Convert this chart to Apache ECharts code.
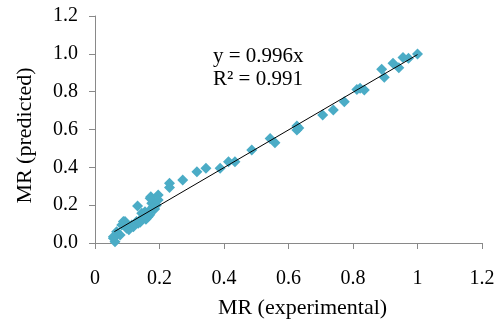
<!DOCTYPE html>
<html>
<head>
<meta charset="utf-8">
<script src="https://cdn.jsdelivr.net/npm/echarts@6/dist/echarts.min.js"></script>
<style>
  html, body { margin: 0; padding: 0; background: #fff; }
  #chart { width: 502px; height: 322px; }
</style>
</head>
<body>
<div id="chart"></div>
<script>
// MR experimental vs predicted
const mrExperimental = [
  1.000, 0.955, 0.972, 0.924, 0.942, 0.889, 0.897, 0.812, 0.835, 0.822,
  0.773, 0.739, 0.706, 0.626, 0.626, 0.632, 0.543, 0.558, 0.486, 0.434,
  0.414, 0.388, 0.344, 0.316, 0.272, 0.231, 0.231, 0.196, 0.173, 0.176,
  0.196, 0.171, 0.132, 0.145, 0.155, 0.171, 0.165, 0.145, 0.129, 0.134,
  0.119, 0.093, 0.083, 0.098, 0.114, 0.067, 0.078, 0.057, 0.062, 0.057,
  0.160, 0.180, 0.190, 0.150, 0.088, 0.185, 0.170, 0.158, 0.140, 0.105
]
const mrPredicted = [
  0.999, 0.981, 0.976, 0.950, 0.927, 0.918, 0.876, 0.812, 0.809, 0.818,
  0.747, 0.703, 0.677, 0.618, 0.597, 0.608, 0.553, 0.530, 0.492, 0.430,
  0.430, 0.395, 0.395, 0.377, 0.333, 0.316, 0.294, 0.254, 0.245, 0.210,
  0.227, 0.236, 0.196, 0.157, 0.165, 0.174, 0.139, 0.122, 0.113, 0.104,
  0.086, 0.113, 0.095, 0.078, 0.095, 0.060, 0.042, 0.025, 0.007, 0.033,
  0.150, 0.190, 0.200, 0.140, 0.113, 0.180, 0.150, 0.125, 0.110, 0.070
]

// trend line y = 0.996x, drawn over the data range
const trendX = [0.06, 1.0]
const trendY = [0.060, 0.996]

const equationLines = ['y = 0.996x', 'R² = 0.991']

const axisMin = 0
const axisMax = 1.2
const axisStep = 0.2

const chart = echarts.init(document.getElementById('chart'))

const font = 'Liberation Serif, Times New Roman, serif'
const axisGray = '#898989'

const option = {
  animation: false,
  grid: { left: 95, right: 20, top: 16, bottom: 79, outerBoundsMode: 'none' },
  xAxis: {
    type: 'value',
    min: axisMin,
    max: axisMax,
    interval: axisStep,
    name: 'MR (experimental)',
    nameLocation: 'middle',
    nameGap: 54,
    nameTextStyle: { fontFamily: font, fontSize: 22, color: '#000', padding: [0, 0, 0, 28] },
    axisLine: { show: true, lineStyle: { color: axisGray, width: 1 } },
    axisTick: { show: true, inside: false, length: 6, lineStyle: { color: axisGray } },
    splitLine: { show: false },
    axisLabel: { fontFamily: font, fontSize: 20, color: '#000', margin: 26 }
  },
  yAxis: {
    type: 'value',
    min: axisMin,
    max: axisMax,
    interval: axisStep,
    name: 'MR (predicted)',
    nameLocation: 'middle',
    nameGap: 59,
    nameTextStyle: { fontFamily: font, fontSize: 22, color: '#000', padding: [0, 12, 0, 0] },
    axisLine: { show: true, lineStyle: { color: axisGray, width: 1 } },
    axisTick: { show: true, inside: false, length: 6, lineStyle: { color: axisGray } },
    splitLine: { show: false },
    axisLabel: {
      fontFamily: font,
      fontSize: 20,
      color: '#000',
      margin: 17,
      formatter: v => v.toFixed(1)
    }
  },
  graphic: [
    {
      type: 'text',
      left: 213,
      top: 45,
      style: {
        text: equationLines.join('\n'),
        font: '21px ' + font,
        lineHeight: 23,
        fill: '#000'
      }
    }
  ],
  series: [
    {
      name: 'MR',
      type: 'scatter',
      symbol: 'diamond',
      symbolSize: 11,
      itemStyle: { color: '#4bacc6', opacity: 1 },
      data: mrExperimental.map((x, i) => [x, mrPredicted[i]]),
      z: 2
    },
    {
      name: 'Linear',
      type: 'line',
      showSymbol: false,
      symbol: 'none',
      lineStyle: { color: '#000', width: 1 },
      data: trendX.map((x, i) => [x, trendY[i]]),
      z: 3
    }
  ]
}

chart.setOption(option)
</script>
</body>
</html>
